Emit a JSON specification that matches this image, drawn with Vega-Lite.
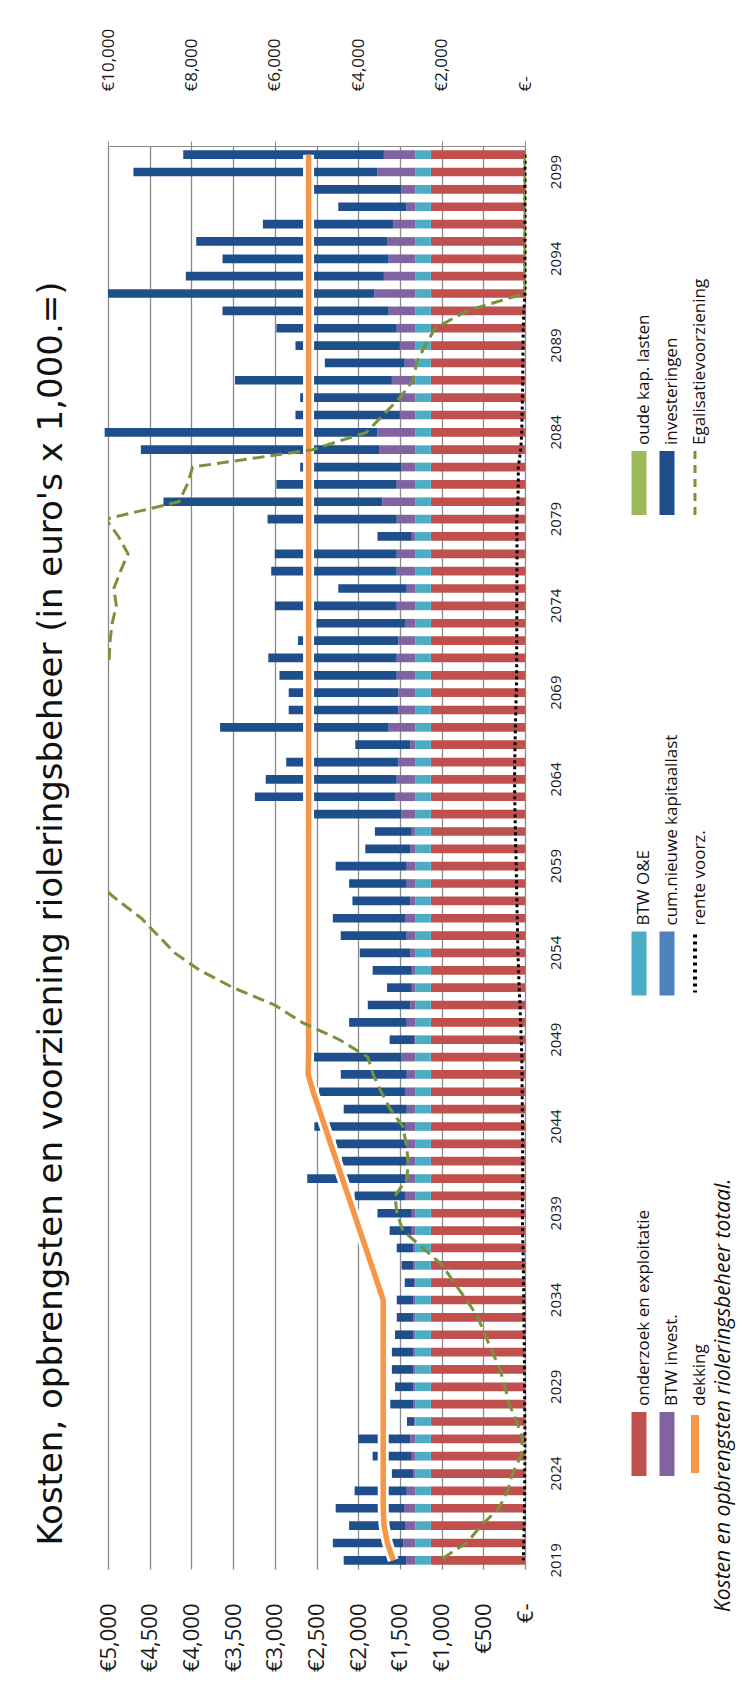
{
  "$schema": "https://vega.github.io/schema/vega-lite/v6.json",
  "background": "white",
  "padding": {"left": 34, "top": 28, "right": 8, "bottom": 6},
  "config": {"view": {"stroke": null}, "font": "Open Sans", "axis": {"labelFont": "Open Sans", "labelColor": "#1a1a1a"}},
  "spacing": 58,
  "datasets": {
    "main": [
      {"year": 2019, "oe": 1130, "btw_oe": 186, "btw_inv": 110, "inv": 748, "dekking": 1580, "egal": 2050, "rente": 20},
      {"year": 2020, "oe": 1130, "btw_oe": 186, "btw_inv": 143, "inv": 845, "dekking": 1650, "egal": 1400, "rente": 14},
      {"year": 2021, "oe": 1130, "btw_oe": 186, "btw_inv": 123, "inv": 670, "dekking": 1690, "egal": 1050, "rente": 10},
      {"year": 2022, "oe": 1130, "btw_oe": 186, "btw_inv": 135, "inv": 819, "dekking": 1700, "egal": 625, "rente": 6},
      {"year": 2023, "oe": 1130, "btw_oe": 186, "btw_inv": 102, "inv": 625, "dekking": 1700, "egal": 420, "rente": 4},
      {"year": 2024, "oe": 1130, "btw_oe": 186, "btw_inv": 20, "inv": 260, "dekking": 1700, "egal": 300, "rente": 3},
      {"year": 2025, "oe": 1130, "btw_oe": 186, "btw_inv": 41, "inv": 470, "dekking": 1700, "egal": 100, "rente": 1},
      {"year": 2026, "oe": 1130, "btw_oe": 186, "btw_inv": 61, "inv": 623, "dekking": 1700, "egal": 60, "rente": 1},
      {"year": 2027, "oe": 1130, "btw_oe": 186, "btw_inv": 10, "inv": 89, "dekking": 1700, "egal": 200, "rente": 2},
      {"year": 2028, "oe": 1130, "btw_oe": 186, "btw_inv": 25, "inv": 274, "dekking": 1700, "egal": 380, "rente": 4},
      {"year": 2029, "oe": 1130, "btw_oe": 186, "btw_inv": 25, "inv": 217, "dekking": 1700, "egal": 480, "rente": 5},
      {"year": 2030, "oe": 1130, "btw_oe": 186, "btw_inv": 25, "inv": 255, "dekking": 1700, "egal": 600, "rente": 6},
      {"year": 2031, "oe": 1130, "btw_oe": 186, "btw_inv": 25, "inv": 255, "dekking": 1700, "egal": 780, "rente": 8},
      {"year": 2032, "oe": 1130, "btw_oe": 186, "btw_inv": 25, "inv": 217, "dekking": 1700, "egal": 960, "rente": 10},
      {"year": 2033, "oe": 1130, "btw_oe": 186, "btw_inv": 25, "inv": 197, "dekking": 1700, "egal": 1130, "rente": 12},
      {"year": 2034, "oe": 1130, "btw_oe": 186, "btw_inv": 25, "inv": 197, "dekking": 1700, "egal": 1400, "rente": 14},
      {"year": 2035, "oe": 1130, "btw_oe": 186, "btw_inv": 15, "inv": 111, "dekking": 1770, "egal": 1700, "rente": 17},
      {"year": 2036, "oe": 1130, "btw_oe": 186, "btw_inv": 20, "inv": 144, "dekking": 1840, "egal": 1980, "rente": 20},
      {"year": 2037, "oe": 1130, "btw_oe": 186, "btw_inv": 21, "inv": 201, "dekking": 1910, "egal": 2450, "rente": 24},
      {"year": 2038, "oe": 1130, "btw_oe": 186, "btw_inv": 41, "inv": 266, "dekking": 1980, "egal": 2930, "rente": 29},
      {"year": 2039, "oe": 1130, "btw_oe": 186, "btw_inv": 41, "inv": 412, "dekking": 2050, "egal": 3070, "rente": 31},
      {"year": 2040, "oe": 1130, "btw_oe": 186, "btw_inv": 123, "inv": 604, "dekking": 2120, "egal": 3120, "rente": 31},
      {"year": 2041, "oe": 1130, "btw_oe": 186, "btw_inv": 123, "inv": 1172, "dekking": 2190, "egal": 2830, "rente": 28},
      {"year": 2042, "oe": 1130, "btw_oe": 186, "btw_inv": 102, "inv": 778, "dekking": 2260, "egal": 2800, "rente": 28},
      {"year": 2043, "oe": 1130, "btw_oe": 186, "btw_inv": 102, "inv": 852, "dekking": 2330, "egal": 2850, "rente": 28},
      {"year": 2044, "oe": 1130, "btw_oe": 186, "btw_inv": 123, "inv": 1087, "dekking": 2400, "egal": 2930, "rente": 29},
      {"year": 2045, "oe": 1130, "btw_oe": 186, "btw_inv": 102, "inv": 756, "dekking": 2470, "egal": 3230, "rente": 32},
      {"year": 2046, "oe": 1130, "btw_oe": 186, "btw_inv": 123, "inv": 1031, "dekking": 2540, "egal": 3450, "rente": 34},
      {"year": 2047, "oe": 1130, "btw_oe": 186, "btw_inv": 102, "inv": 791, "dekking": 2600, "egal": 3640, "rente": 36},
      {"year": 2048, "oe": 1130, "btw_oe": 186, "btw_inv": 164, "inv": 1057, "dekking": 2595, "egal": 3770, "rente": 38},
      {"year": 2049, "oe": 1130, "btw_oe": 186, "btw_inv": 15, "inv": 292, "dekking": 2595, "egal": 4450, "rente": 45},
      {"year": 2050, "oe": 1130, "btw_oe": 186, "btw_inv": 102, "inv": 691, "dekking": 2595, "egal": 5350, "rente": 52},
      {"year": 2051, "oe": 1130, "btw_oe": 186, "btw_inv": 61, "inv": 508, "dekking": 2595, "egal": 6000, "rente": 60},
      {"year": 2052, "oe": 1130, "btw_oe": 186, "btw_inv": 41, "inv": 297, "dekking": 2595, "egal": 7000, "rente": 70},
      {"year": 2053, "oe": 1130, "btw_oe": 186, "btw_inv": 41, "inv": 470, "dekking": 2595, "egal": 7800, "rente": 77},
      {"year": 2054, "oe": 1130, "btw_oe": 186, "btw_inv": 61, "inv": 604, "dekking": 2595, "egal": 8400, "rente": 85},
      {"year": 2055, "oe": 1130, "btw_oe": 186, "btw_inv": 102, "inv": 791, "dekking": 2595, "egal": 8800, "rente": 89},
      {"year": 2056, "oe": 1130, "btw_oe": 186, "btw_inv": 123, "inv": 865, "dekking": 2595, "egal": 9200, "rente": 93},
      {"year": 2057, "oe": 1130, "btw_oe": 186, "btw_inv": 61, "inv": 692, "dekking": 2595, "egal": 9750, "rente": 98},
      {"year": 2058, "oe": 1130, "btw_oe": 186, "btw_inv": 102, "inv": 691, "dekking": 2595, "egal": 10250, "rente": 102},
      {"year": 2059, "oe": 1130, "btw_oe": 186, "btw_inv": 102, "inv": 852, "dekking": 2595, "egal": 10700, "rente": 105},
      {"year": 2060, "oe": 1130, "btw_oe": 186, "btw_inv": 61, "inv": 538, "dekking": 2595, "egal": 11100, "rente": 110},
      {"year": 2061, "oe": 1130, "btw_oe": 186, "btw_inv": 41, "inv": 443, "dekking": 2595, "egal": 11500, "rente": 115},
      {"year": 2062, "oe": 1130, "btw_oe": 186, "btw_inv": 164, "inv": 1057, "dekking": 2595, "egal": 11800, "rente": 120},
      {"year": 2063, "oe": 1130, "btw_oe": 186, "btw_inv": 242, "inv": 1681, "dekking": 2595, "egal": 12000, "rente": 123},
      {"year": 2064, "oe": 1130, "btw_oe": 186, "btw_inv": 222, "inv": 1571, "dekking": 2595, "egal": 12000, "rente": 125},
      {"year": 2065, "oe": 1130, "btw_oe": 186, "btw_inv": 203, "inv": 1344, "dekking": 2595, "egal": 11800, "rente": 123},
      {"year": 2066, "oe": 1130, "btw_oe": 186, "btw_inv": 61, "inv": 658, "dekking": 2595, "egal": 11400, "rente": 120},
      {"year": 2067, "oe": 1130, "btw_oe": 186, "btw_inv": 319, "inv": 2021, "dekking": 2595, "egal": 11000, "rente": 115},
      {"year": 2068, "oe": 1130, "btw_oe": 186, "btw_inv": 203, "inv": 1314, "dekking": 2595, "egal": 10600, "rente": 110},
      {"year": 2069, "oe": 1130, "btw_oe": 186, "btw_inv": 203, "inv": 1314, "dekking": 2595, "egal": 10300, "rente": 105},
      {"year": 2070, "oe": 1130, "btw_oe": 186, "btw_inv": 222, "inv": 1406, "dekking": 2595, "egal": 10050, "rente": 100},
      {"year": 2071, "oe": 1130, "btw_oe": 186, "btw_inv": 222, "inv": 1540, "dekking": 2595, "egal": 9970, "rente": 100},
      {"year": 2072, "oe": 1130, "btw_oe": 186, "btw_inv": 203, "inv": 1203, "dekking": 2595, "egal": 9950, "rente": 99},
      {"year": 2073, "oe": 1130, "btw_oe": 186, "btw_inv": 123, "inv": 1061, "dekking": 2595, "egal": 9900, "rente": 98},
      {"year": 2074, "oe": 1130, "btw_oe": 186, "btw_inv": 222, "inv": 1462, "dekking": 2595, "egal": 9800, "rente": 98},
      {"year": 2075, "oe": 1130, "btw_oe": 186, "btw_inv": 102, "inv": 821, "dekking": 2595, "egal": 9860, "rente": 98},
      {"year": 2076, "oe": 1130, "btw_oe": 186, "btw_inv": 222, "inv": 1505, "dekking": 2595, "egal": 9700, "rente": 97},
      {"year": 2077, "oe": 1130, "btw_oe": 186, "btw_inv": 222, "inv": 1462, "dekking": 2595, "egal": 9520, "rente": 95},
      {"year": 2078, "oe": 1130, "btw_oe": 186, "btw_inv": 41, "inv": 412, "dekking": 2595, "egal": 9750, "rente": 97},
      {"year": 2079, "oe": 1130, "btw_oe": 186, "btw_inv": 222, "inv": 1549, "dekking": 2595, "egal": 10050, "rente": 100},
      {"year": 2080, "oe": 1130, "btw_oe": 186, "btw_inv": 395, "inv": 2624, "dekking": 2595, "egal": 8300, "rente": 85},
      {"year": 2081, "oe": 1130, "btw_oe": 186, "btw_inv": 222, "inv": 1443, "dekking": 2595, "egal": 8100, "rente": 81},
      {"year": 2082, "oe": 1130, "btw_oe": 186, "btw_inv": 164, "inv": 1216, "dekking": 2595, "egal": 7970, "rente": 80},
      {"year": 2083, "oe": 1130, "btw_oe": 186, "btw_inv": 434, "inv": 2856, "dekking": 2595, "egal": 5100, "rente": 51},
      {"year": 2084, "oe": 1130, "btw_oe": 186, "btw_inv": 453, "inv": 3271, "dekking": 2595, "egal": 3800, "rente": 39},
      {"year": 2085, "oe": 1130, "btw_oe": 186, "btw_inv": 184, "inv": 1252, "dekking": 2595, "egal": 3400, "rente": 35},
      {"year": 2086, "oe": 1130, "btw_oe": 186, "btw_inv": 184, "inv": 1196, "dekking": 2595, "egal": 3000, "rente": 31},
      {"year": 2087, "oe": 1130, "btw_oe": 186, "btw_inv": 280, "inv": 1882, "dekking": 2595, "egal": 2680, "rente": 27},
      {"year": 2088, "oe": 1130, "btw_oe": 186, "btw_inv": 126, "inv": 958, "dekking": 2595, "egal": 2600, "rente": 26},
      {"year": 2089, "oe": 1130, "btw_oe": 186, "btw_inv": 184, "inv": 1252, "dekking": 2595, "egal": 2400, "rente": 24},
      {"year": 2090, "oe": 1130, "btw_oe": 186, "btw_inv": 222, "inv": 1443, "dekking": 2595, "egal": 2150, "rente": 21},
      {"year": 2091, "oe": 1130, "btw_oe": 186, "btw_inv": 319, "inv": 1992, "dekking": 2595, "egal": 1400, "rente": 14},
      {"year": 2092, "oe": 1130, "btw_oe": 186, "btw_inv": 492, "inv": 3192, "dekking": 2595, "egal": 0, "rente": 0},
      {"year": 2093, "oe": 1130, "btw_oe": 186, "btw_inv": 376, "inv": 2375, "dekking": 2595, "egal": 0, "rente": 0},
      {"year": 2094, "oe": 1130, "btw_oe": 186, "btw_inv": 319, "inv": 1992, "dekking": 2595, "egal": 0, "rente": 0},
      {"year": 2095, "oe": 1130, "btw_oe": 186, "btw_inv": 338, "inv": 2288, "dekking": 2595, "egal": 0, "rente": 0},
      {"year": 2096, "oe": 1130, "btw_oe": 186, "btw_inv": 261, "inv": 1566, "dekking": 2595, "egal": 0, "rente": 0},
      {"year": 2097, "oe": 1130, "btw_oe": 186, "btw_inv": 104, "inv": 819, "dekking": 2595, "egal": 0, "rente": 0},
      {"year": 2098, "oe": 1130, "btw_oe": 186, "btw_inv": 164, "inv": 1057, "dekking": 2595, "egal": 0, "rente": 0},
      {"year": 2099, "oe": 1130, "btw_oe": 186, "btw_inv": 453, "inv": 2926, "dekking": 2595, "egal": 0, "rente": 0},
      {"year": 2100, "oe": 1130, "btw_oe": 186, "btw_inv": 376, "inv": 2406, "dekking": 2595, "egal": 0, "rente": 0}
    ],
    "leg": [
      {"grp": "A", "col": 1, "label": "onderzoek en exploitatie", "kind": "rect", "cat": "oe"},
      {"grp": "A", "col": 2, "label": "BTW invest.", "kind": "rect", "cat": "btw_inv"},
      {"grp": "A", "col": 3, "label": "dekking", "kind": "solid", "cat": "dekking"},
      {"grp": "B", "col": 1, "label": "BTW O&E", "kind": "rect", "cat": "btw_oe"},
      {"grp": "B", "col": 2, "label": "cum.nieuwe kapitaallast", "kind": "rect", "cat": "cum"},
      {"grp": "B", "col": 3, "label": "rente voorz.", "kind": "dotted", "cat": "rente"},
      {"grp": "C", "col": 1, "label": "oude kap. lasten", "kind": "rect", "cat": "oude"},
      {"grp": "C", "col": 2, "label": "investeringen", "kind": "rect", "cat": "inv"},
      {"grp": "C", "col": 3, "label": "Egalisatievoorziening", "kind": "dashed", "cat": "egal"},
      {"grp": "A", "col": 4, "label": "Kosten en opbrengsten rioleringsbeheer totaal.", "kind": "cap", "cat": "cap"}
    ],
    "rank": [
      {"cat": "oe", "rank": 1},
      {"cat": "btw_oe", "rank": 2},
      {"cat": "cum", "rank": 3},
      {"cat": "btw_inv", "rank": 4},
      {"cat": "oude", "rank": 5},
      {"cat": "inv", "rank": 6}
    ],
    "ttl": [
      {"t": "Kosten, opbrengsten en voorziening rioleringsbeheer (in euro's x 1,000.=)"}
    ]
  },
  "hconcat": [
    {
      "spacing": 27,
      "hconcat": [
        {
          "width": 32,
          "height": 1423,
          "data": {"name": "ttl"},
          "mark": {"type": "text", "angle": 270, "align": "center", "baseline": "middle", "fontSize": 34, "font": "DejaVu Sans", "color": "#111111", "yOffset": 56},
          "encoding": {"text": {"field": "t"}}
        },
        {
          "width": 417,
          "height": 1423,
          "data": {"name": "main"},
          "encoding": {
            "y": {
              "field": "year", "type": "ordinal", "sort": "descending",
              "scale": {"paddingInner": 0.5, "paddingOuter": 0.25},
              "axis": {"orient": "right", "values": [2019, 2024, 2029, 2034, 2039, 2044, 2049, 2054, 2059, 2064, 2069, 2074, 2079, 2084, 2089, 2094, 2099], "labelAngle": 270, "labelAlign": "center", "labelBaseline": "top", "labelPadding": 23, "labelFontSize": 15, "labelOverlap": false, "ticks": false, "domain": false, "title": null}
            }
          },
          "layer": [
            {
              "layer": [
                {
                  "transform": [
                    {"fold": ["oe", "btw_oe", "btw_inv", "inv"], "as": ["cat", "v"]},
                    {"lookup": "cat", "from": {"data": {"name": "rank"}, "key": "cat", "fields": ["rank"]}}
                  ],
                  "mark": {"type": "bar"},
                  "encoding": {
                    "x": {"field": "v", "type": "quantitative", "stack": "zero", "scale": {"domain": [0, 5000], "reverse": true, "nice": false}, "axis": {"orient": "bottom", "values": [0, 500, 1000, 1500, 2000, 2500, 3000, 3500, 4000, 4500, 5000], "labelExpr": "datum.value == 0 ? '€-' : '€' + format(datum.value, ',')", "labelAngle": 270, "labelAlign": "right", "labelBaseline": "middle", "labelPadding": 34, "labelFontSize": 22, "ticks": false, "domain": false, "grid": true, "gridColor": "#8a8a8a", "gridWidth": 1.3, "title": null, "labelOverlap": false}},
                    "color": {"field": "cat", "type": "nominal", "scale": {"domain": ["oe", "btw_oe", "cum", "btw_inv", "oude", "inv"], "range": ["#C0504D", "#4BACC6", "#4F81BD", "#8064A2", "#9BBB59", "#1F4E8C"]}, "legend": null},
                    "order": {"field": "rank", "type": "quantitative"}
                  }
                },
                {
                  "mark": {"type": "line", "color": "white", "strokeWidth": 11},
                  "encoding": {"x": {"field": "dekking", "type": "quantitative", "scale": {"domain": [0, 5000], "reverse": true, "nice": false}, "axis": {"orient": "bottom", "values": [0, 500, 1000, 1500, 2000, 2500, 3000, 3500, 4000, 4500, 5000], "labelExpr": "datum.value == 0 ? '€-' : '€' + format(datum.value, ',')", "labelAngle": 270, "labelAlign": "right", "labelBaseline": "middle", "labelPadding": 34, "labelFontSize": 22, "ticks": false, "domain": false, "grid": true, "gridColor": "#8a8a8a", "gridWidth": 1.3, "title": null, "labelOverlap": false}}}
                },
                {
                  "mark": {"type": "line", "color": "#F79646", "strokeWidth": 5.5},
                  "encoding": {"x": {"field": "dekking", "type": "quantitative", "scale": {"domain": [0, 5000], "reverse": true, "nice": false}, "axis": {"orient": "bottom", "values": [0, 500, 1000, 1500, 2000, 2500, 3000, 3500, 4000, 4500, 5000], "labelExpr": "datum.value == 0 ? '€-' : '€' + format(datum.value, ',')", "labelAngle": 270, "labelAlign": "right", "labelBaseline": "middle", "labelPadding": 34, "labelFontSize": 22, "ticks": false, "domain": false, "grid": true, "gridColor": "#8a8a8a", "gridWidth": 1.3, "title": null, "labelOverlap": false}}}
                },
                {
                  "mark": {"type": "line", "color": "#000000", "strokeWidth": 3, "strokeDash": [3, 3]},
                  "encoding": {"x": {"field": "rente", "type": "quantitative", "scale": {"domain": [0, 5000], "reverse": true, "nice": false}, "axis": {"orient": "bottom", "values": [0, 500, 1000, 1500, 2000, 2500, 3000, 3500, 4000, 4500, 5000], "labelExpr": "datum.value == 0 ? '€-' : '€' + format(datum.value, ',')", "labelAngle": 270, "labelAlign": "right", "labelBaseline": "middle", "labelPadding": 34, "labelFontSize": 22, "ticks": false, "domain": false, "grid": true, "gridColor": "#8a8a8a", "gridWidth": 1.3, "title": null, "labelOverlap": false}}}
                }
              ]
            },
            {
              "mark": {"type": "line", "color": "#77933C", "strokeWidth": 3, "strokeDash": [12, 6], "clip": true},
              "encoding": {"x": {"field": "egal", "type": "quantitative", "scale": {"domain": [0, 10000], "reverse": true, "nice": false}, "axis": {"orient": "top", "values": [0, 2000, 4000, 6000, 8000, 10000], "labelExpr": "datum.value == 0 ? '€-' : '€' + format(datum.value, ',')", "labelAngle": 270, "labelAlign": "left", "labelBaseline": "middle", "labelPadding": 50, "labelFontSize": 17, "ticks": true, "tickSize": 5, "tickColor": "#8a8a8a", "domain": true, "domainColor": "#8a8a8a", "grid": false, "title": null, "labelOverlap": false}}}
            }
          ],
          "resolve": {"scale": {"x": "independent"}, "axis": {"x": "independent"}}
        }
      ]
    },
    {
      "width": 112,
      "height": 1423,
      "data": {"name": "leg"},
      "encoding": {
        "x": {"field": "col", "type": "ordinal", "scale": {"type": "point", "domain": [1, 2, 3, 4], "range": [18, 102], "padding": 0}, "axis": null},
        "y": {"field": "grp", "type": "nominal", "scale": {"type": "point", "domain": ["C", "B", "A"], "range": [337, 1298], "padding": 0}, "axis": null}
      },
      "layer": [
        {
          "transform": [{"filter": "datum.kind == 'rect'"}],
          "mark": {"type": "tick", "orient": "vertical", "thickness": 15, "size": 64, "opacity": 1},
          "encoding": {"color": {"field": "cat", "type": "nominal", "scale": {"domain": ["oe", "btw_oe", "cum", "btw_inv", "oude", "inv"], "range": ["#C0504D", "#4BACC6", "#4F81BD", "#8064A2", "#9BBB59", "#1F4E8C"]}, "legend": null}}
        },
        {
          "transform": [{"filter": "datum.kind == 'solid'"}],
          "mark": {"type": "rule", "color": "#F79646", "strokeWidth": 8, "yOffset": -29, "y2Offset": 29},
          "encoding": {"y2": {"field": "grp"}}
        },
        {
          "transform": [{"filter": "datum.kind == 'dotted'"}],
          "mark": {"type": "rule", "color": "#000000", "strokeWidth": 4, "strokeDash": [3, 4], "yOffset": -29, "y2Offset": 29},
          "encoding": {"y2": {"field": "grp"}}
        },
        {
          "transform": [{"filter": "datum.kind == 'dashed'"}],
          "mark": {"type": "rule", "color": "#77933C", "strokeWidth": 3, "strokeDash": [8, 6], "yOffset": -32, "y2Offset": 32},
          "encoding": {"y2": {"field": "grp"}}
        },
        {
          "transform": [{"filter": "datum.kind != 'cap'"}],
          "mark": {"type": "text", "angle": 270, "align": "left", "baseline": "middle", "fontSize": 17, "yOffset": -38, "xOffset": 5, "color": "#111111", "font": "Open Sans"},
          "encoding": {"text": {"field": "label"}}
        },
        {
          "transform": [{"filter": "datum.kind == 'cap'"}],
          "mark": {"type": "text", "angle": 270, "align": "left", "baseline": "middle", "fontSize": 21, "fontStyle": "italic", "yOffset": 168, "xOffset": 1, "color": "#111111", "font": "Open Sans"},
          "encoding": {"text": {"field": "label"}}
        }
      ]
    }
  ]
}
